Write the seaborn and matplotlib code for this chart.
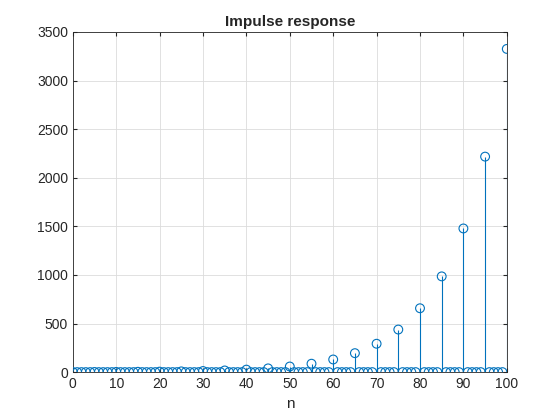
import matplotlib
matplotlib.use("Agg")
import matplotlib.pyplot as plt
import seaborn as sns
import numpy as np
import pandas as pd

# sample indices n = 0..100; the response is nonzero only at multiples of 5
n_values = list(range(0, 101))
peak_positions = [0, 5, 10, 15, 20, 25, 30, 35, 40, 45, 50,
                  55, 60, 65, 70, 75, 80, 85, 90, 95, 100]
peak_values = [1.0, 1.5, 2.25, 3.4, 5.1, 7.6, 11.4, 17.1, 25.6, 38.4, 57.7,
               86.5, 130, 195, 292, 438, 657, 985, 1478, 2217, 3325]
x_ticks = [0, 10, 20, 30, 40, 50, 60, 70, 80, 90, 100]
y_ticks = [0, 500, 1000, 1500, 2000, 2500, 3000, 3500]

h = [0.0] * len(n_values)
for p, v in zip(peak_positions, peak_values):
    h[n_values.index(p)] = v
df = pd.DataFrame({"n": n_values, "h": h})

sns.set_style("white")
plt.rcParams['font.family'] = ['Arial', 'Liberation Sans', 'DejaVu Sans']

color = "#0072BD"
fig = plt.figure(figsize=(5.6, 4.2), dpi=100)
ax = fig.add_axes([0.13, 0.114, 0.775, 0.81])

ax.vlines(df["n"], 0, df["h"], color=color, linewidth=0.8, zorder=2)
sns.scatterplot(data=df, x="n", y="h", ax=ax, marker="o", s=40,
                facecolors="none", edgecolor=color, linewidth=0.8, zorder=3)

ax.set_xlim(0, 100)
ax.set_ylim(0, 3500)
ax.set_xticks(x_ticks)
ax.set_yticks(y_ticks)
ax.grid(True, color="#dcdcdc", linewidth=0.6)
ax.set_axisbelow(True)
for s in ax.spines.values():
    s.set_color("#262626")
    s.set_linewidth(0.6)
ax.tick_params(direction="in", length=3, labelsize=10, colors="#262626",
               top=True, right=True, bottom=True, left=True)
ax.set_title("Impulse response", fontsize=11, fontweight="bold", pad=4)
ax.set_xlabel("n", fontsize=11, labelpad=4)
ax.set_ylabel("")

fig.savefig("out.png", dpi=100)
